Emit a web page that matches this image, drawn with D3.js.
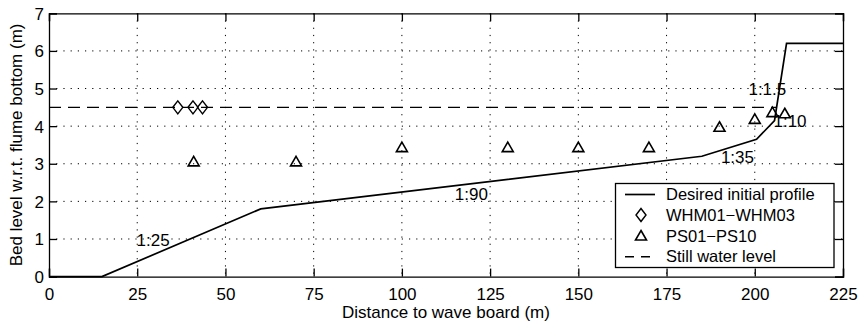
<!DOCTYPE html>
<html><head><meta charset="utf-8">
<script src="https://cdn.jsdelivr.net/npm/d3@7"></script>
<style>body{margin:0;background:#fff}svg{display:block;font-family:"Liberation Sans",Arial,sans-serif}</style>
</head><body><svg id="c" width="861" height="321"></svg>
<script>
const profileX = [0, 15, 60, 185, 200.5, 205.6, 209, 225];
const profileY = [0, 0, 1.8, 3.2, 3.65, 4.15, 6.2, 6.2];
const whmX = [36.5, 40.8, 43.5];
const whmY = [4.5, 4.5, 4.5];
const psX = [41, 70, 100, 130, 150, 170, 190, 200, 205, 208.5];
const psY = [3.05, 3.05, 3.43, 3.43, 3.43, 3.43, 3.97, 4.18, 4.36, 4.33];
const swlX = [0, 206.3];
const swlY = [4.5, 4.5];
const slopeText = ["1:25", "1:90", "1:35", "1:1.5", "1:10"];
const slopeX = [24.8, 115, 190.4, 198.2, 205.3];
const slopeY = [0.97, 2.19, 3.17, 4.99, 4.14];
const xTicks = [0, 25, 50, 75, 100, 125, 150, 175, 200, 225];
const yTicks = [0, 1, 2, 3, 4, 5, 6, 7];
const legendLabels = ["Desired initial profile", "WHM01\u2212WHM03", "PS01\u2212PS10", "Still water level"];

const svg = d3.select("#c");
const L = 49, R = 843, T = 13.3, B = 276.6;
const x = d3.scaleLinear().domain([0, 225]).range([L, R]);
const y = d3.scaleLinear().domain([0, 7]).range([B, T]);
const FS = 17;

// grid
const g = svg.append("g");
g.selectAll("line.gx").data(xTicks.slice(1, -1)).join("line")
  .attr("x1", d => x(d)).attr("x2", d => x(d)).attr("y1", T).attr("y2", B)
  .attr("stroke", "#000").attr("stroke-width", 1).attr("stroke-dasharray", "1.2,6");
g.selectAll("line.gy").data(yTicks.slice(1, -1)).join("line")
  .attr("y1", d => y(d)).attr("y2", d => y(d)).attr("x1", L).attr("x2", R)
  .attr("stroke", "#000").attr("stroke-width", 1).attr("stroke-dasharray", "1.2,6");

// axes (ticks inward)
const tl = 8;
const ax = svg.append("g").attr("transform", `translate(0,${B})`)
  .call(d3.axisBottom(x).tickValues(xTicks).tickSize(-tl).tickFormat(d3.format("d")));
ax.selectAll(".tick text").attr("y", 17).attr("dy", "0.35em");
svg.append("g").attr("transform", `translate(0,${T})`)
  .call(d3.axisTop(x).tickValues(xTicks).tickSize(-tl).tickFormat(""));
const ay = svg.append("g").attr("transform", `translate(${L},0)`)
  .call(d3.axisLeft(y).tickValues(yTicks).tickSize(-tl).tickFormat(d3.format("d")));
ay.selectAll(".tick text").attr("x", -5).attr("dy", "0.35em");
svg.append("g").attr("transform", `translate(${R},0)`)
  .call(d3.axisRight(y).tickValues(yTicks).tickSize(-tl).tickFormat(""));
svg.selectAll(".domain").attr("stroke", "#000").attr("stroke-width", 1.3);
svg.selectAll(".tick line").attr("stroke", "#000").attr("stroke-width", 1.3);
svg.selectAll(".tick text").attr("font-size", FS).attr("fill", "#000").attr("font-family", "Liberation Sans, Arial, sans-serif");

// still water level
const line = d3.line().x(d => x(d[0])).y(d => y(d[1]));
svg.append("path").datum(swlX.map((v, i) => [v, swlY[i]]))
  .attr("d", line).attr("fill", "none").attr("stroke", "#000").attr("stroke-width", 1.4)
  .attr("stroke-dasharray", "12,7");

// profile
svg.append("path").datum(profileX.map((v, i) => [v, profileY[i]]))
  .attr("d", line).attr("fill", "none").attr("stroke", "#000").attr("stroke-width", 1.7);

// markers
const diamond = (cx, cy) => `M${cx},${cy - 6.5}L${cx + 5},${cy}L${cx},${cy + 6.5}L${cx - 5},${cy}Z`;
const tri = (cx, cy) => `M${cx},${cy - 5.5}L${cx + 5.5},${cy + 4}L${cx - 5.5},${cy + 4}Z`;
svg.selectAll("path.whm").data(whmX.map((v, i) => [v, whmY[i]])).join("path")
  .attr("d", d => diamond(x(d[0]), y(d[1]))).attr("fill", "none").attr("stroke", "#000").attr("stroke-width", 1.4);
svg.selectAll("path.ps").data(psX.map((v, i) => [v, psY[i]])).join("path")
  .attr("d", d => tri(x(d[0]), y(d[1]))).attr("fill", "none").attr("stroke", "#000").attr("stroke-width", 1.6);

// slope labels
svg.selectAll("text.sl").data(slopeText).join("text")
  .attr("x", (d, i) => x(slopeX[i])).attr("y", (d, i) => y(slopeY[i])).attr("dy", "0.35em")
  .attr("font-size", FS).text(d => d);

// axis labels
svg.append("text").attr("x", (L + R) / 2).attr("y", 312).attr("dy", "0.35em").attr("text-anchor", "middle")
  .attr("font-size", 17).text("Distance to wave board (m)");
svg.append("text").attr("transform", `translate(16,${(T + B) / 2}) rotate(-90)`).attr("dy", "0.35em")
  .attr("text-anchor", "middle").attr("font-size", 17).text("Bed level w.r.t. flume bottom (m)");

// legend
const lg = svg.append("g");
lg.append("rect").attr("x", 615.5).attr("y", 183.5).attr("width", 218.5).attr("height", 84)
  .attr("fill", "#fff").attr("stroke", "#000").attr("stroke-width", 1.3);
const ly = [194.5, 215, 236, 256.7];
lg.selectAll("text").data(legendLabels).join("text")
  .attr("x", 666).attr("y", (d, i) => ly[i]).attr("dy", "0.35em").attr("font-size", 16.5).text(d => d);
lg.append("line").attr("x1", 625).attr("x2", 655).attr("y1", ly[0]).attr("y2", ly[0]).attr("stroke", "#000").attr("stroke-width", 1.7);
lg.append("path").attr("d", diamond(641, ly[1])).attr("fill", "none").attr("stroke", "#000").attr("stroke-width", 1.4);
lg.append("path").attr("d", tri(641, ly[2])).attr("fill", "none").attr("stroke", "#000").attr("stroke-width", 1.6);
lg.append("line").attr("x1", 625).attr("x2", 655).attr("y1", ly[3]).attr("y2", ly[3]).attr("stroke", "#000").attr("stroke-width", 1.4).attr("stroke-dasharray", "9,7");
</script></body></html>
